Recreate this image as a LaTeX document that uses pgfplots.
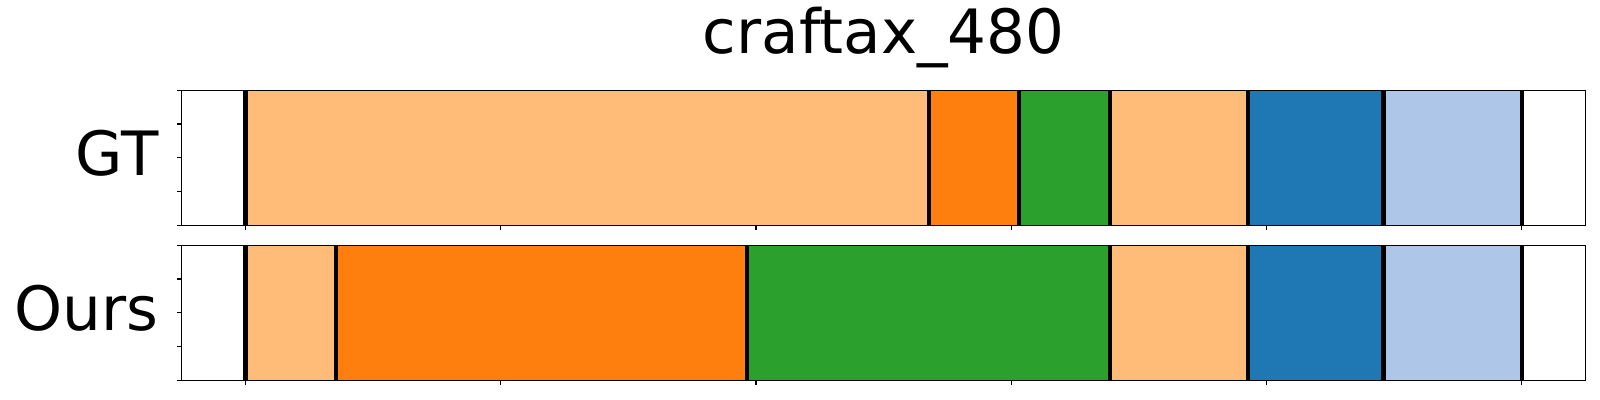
\documentclass[border=0pt]{standalone}
\usepackage{pgfplots}
\pgfplotsset{compat=1.18}
\usepackage{fontspec}
\setmainfont{DejaVu Sans}
\definecolor{tabLO}{HTML}{FFBB78}
\definecolor{tabO}{HTML}{FF7F0E}
\definecolor{tabG}{HTML}{2CA02C}
\definecolor{tabB}{HTML}{1F77B4}
\definecolor{tabLB}{HTML}{AEC7E8}
\pgfplotsset{
  segstyle/.style={
    scale only axis, width=1010.9pt, height=97.2pt,
    xmin=-24, xmax=504, ymin=0, ymax=1,
    xtick={0,96,192,288,384,480}, ytick={0,0.25,0.5,0.75,1},
    xticklabels={}, yticklabels={},
    xtick pos=bottom, ytick pos=left,
    tick align=outside, major tick length=3.5pt,
    tick style={black, line width=0.8pt},
    axis line style={line width=0.8pt},
    axis on top, clip=false,
    anchor=south west,
  },
  seg/.style={draw=none, fill=#1, forget plot},
  sep/.style={black, line width=3pt, forget plot},
}
\begin{document}
\begin{tikzpicture}
\path[use as bounding box] (0,0) rectangle (1152pt,288pt);
% GT
\begin{axis}[segstyle, at={(130.8pt,125.8pt)},
  title={\fontsize{44}{50}\selectfont craftax\_480},
  title style={at={(0.5,1)}, anchor=base, inner sep=0pt, yshift=20.2pt}]
\addplot[seg=tabLO] coordinates {(0,0) (257,0) (257,1) (0,1)} -- cycle;
\addplot[seg=tabO]  coordinates {(257,0) (291,0) (291,1) (257,1)} -- cycle;
\addplot[seg=tabG]  coordinates {(291,0) (325,0) (325,1) (291,1)} -- cycle;
\addplot[seg=tabLO] coordinates {(325,0) (377,0) (377,1) (325,1)} -- cycle;
\addplot[seg=tabB]  coordinates {(377,0) (428,0) (428,1) (377,1)} -- cycle;
\addplot[seg=tabLB] coordinates {(428,0) (480,0) (480,1) (428,1)} -- cycle;
\addplot[sep] coordinates {(0,0) (0,1)};
\addplot[sep] coordinates {(257,0) (257,1)};
\addplot[sep] coordinates {(291,0) (291,1)};
\addplot[sep] coordinates {(325,0) (325,1)};
\addplot[sep] coordinates {(377,0) (377,1)};
\addplot[sep] coordinates {(428,0) (428,1)};
\addplot[sep] coordinates {(480,0) (480,1)};
\node[anchor=base east, inner sep=0pt, xshift=-16.5pt, yshift=-12.5pt] at (rel axis cs:0,0.5) {\fontsize{44}{50}\selectfont GT};
\end{axis}
% Ours
\begin{axis}[segstyle, at={(130.8pt,14.2pt)}]
\addplot[seg=tabLO] coordinates {(0,0) (34,0) (34,1) (0,1)} -- cycle;
\addplot[seg=tabO]  coordinates {(34,0) (188.5,0) (188.5,1) (34,1)} -- cycle;
\addplot[seg=tabG]  coordinates {(188.5,0) (325,0) (325,1) (188.5,1)} -- cycle;
\addplot[seg=tabLO] coordinates {(325,0) (377,0) (377,1) (325,1)} -- cycle;
\addplot[seg=tabB]  coordinates {(377,0) (428,0) (428,1) (377,1)} -- cycle;
\addplot[seg=tabLB] coordinates {(428,0) (480,0) (480,1) (428,1)} -- cycle;
\addplot[sep] coordinates {(0,0) (0,1)};
\addplot[sep] coordinates {(34,0) (34,1)};
\addplot[sep] coordinates {(188.5,0) (188.5,1)};
\addplot[sep] coordinates {(325,0) (325,1)};
\addplot[sep] coordinates {(377,0) (377,1)};
\addplot[sep] coordinates {(428,0) (428,1)};
\addplot[sep] coordinates {(480,0) (480,1)};
\node[anchor=base east, inner sep=0pt, xshift=-16.5pt, yshift=-13pt] at (rel axis cs:0,0.5) {\fontsize{44}{50}\selectfont Ours};
\end{axis}
\end{tikzpicture}
\end{document}
